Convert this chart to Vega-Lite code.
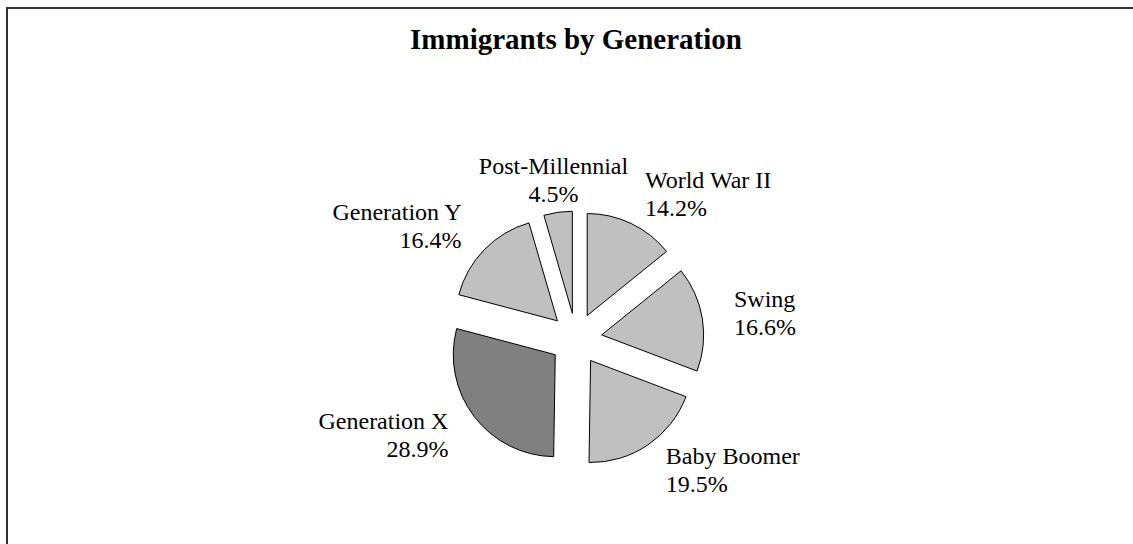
{
  "$schema": "https://vega.github.io/schema/vega-lite/v6.json",
  "width": 1138,
  "height": 662,
  "autosize": {"type": "none"},
  "padding": {"left": 7, "top": 8, "right": 0, "bottom": 0},
  "background": "white",
  "title": {
    "text": "Immigrants by Generation",
    "font": "Liberation Serif",
    "fontSize": 29,
    "fontWeight": "bold",
    "color": "black",
    "anchor": "middle",
    "frame": "group",
    "offset": -71,
    "baseline": "alphabetic"
  },
  "config": {
    "view": {"stroke": null},
    "text": {"font": "Liberation Serif"}
  },
  "data": {
    "values": [
      {"name": "World War II", "value": 14.2},
      {"name": "Swing", "value": 16.6},
      {"name": "Baby Boomer", "value": 19.5},
      {"name": "Generation X", "value": 28.9},
      {"name": "Generation Y", "value": 16.4},
      {"name": "Post-Millennial", "value": 4.5}
    ]
  },
  "transform": [
    {"stack": "value", "groupby": [], "as": ["v0", "v1"]},
    {"calculate": "(datum.v0 + datum.v1) / 2", "as": "mid"},
    {"calculate": "datum.name + '\\n' + format(datum.value, '.1f') + '%'", "as": "label"}
  ],
  "layer": [
    {
      "transform": [{"aggregate": [{"op": "count", "as": "n"}]}],
      "mark": {"type": "rect", "filled": false, "stroke": "#333333", "strokeWidth": 2},
      "encoding": {}
    },
    {
      "mark": {
        "type": "arc",
        "outerRadius": 102,
        "stroke": "black",
        "strokeWidth": 1,
        "xOffset": {"expr": "26 * sin(PI * (datum.v0 + datum.v1) / 100.1)"},
        "yOffset": {"expr": "-26 * cos(PI * (datum.v0 + datum.v1) / 100.1)"}
      },
      "encoding": {
        "theta": {"field": "v0", "type": "quantitative", "scale": {"domain": [0, 100.1]}},
        "theta2": {"field": "v1"},
        "color": {
          "field": "name",
          "type": "nominal",
          "scale": {
            "domain": ["World War II", "Swing", "Baby Boomer", "Generation X", "Generation Y", "Post-Millennial"],
            "range": ["#c0c0c0", "#c0c0c0", "#c0c0c0", "#808080", "#c0c0c0", "#c0c0c0"]
          },
          "legend": null
        }
      }
    },
    {
      "mark": {
        "type": "text",
        "radius": 160,
        "fontSize": 24,
        "lineBreak": "\n",
        "lineHeight": 28,
        "baseline": "middle",
        "yOffset": -14,
        "color": "black",
        "align": {"expr": "sin(PI * (datum.v0 + datum.v1) / 100.1) > 0.3 ? 'left' : (sin(PI * (datum.v0 + datum.v1) / 100.1) < -0.3 ? 'right' : 'center')"}
      },
      "encoding": {
        "theta": {"field": "mid", "type": "quantitative", "stack": null},
        "text": {"field": "label"}
      }
    }
  ]
}
